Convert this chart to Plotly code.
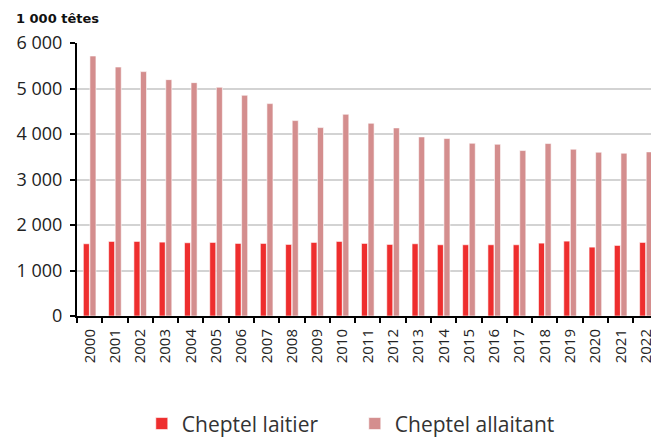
import plotly.graph_objects as go

years = [str(y) for y in range(2000, 2023)]
laitier = [1588, 1639, 1639, 1624, 1610, 1617, 1595, 1595, 1573, 1617, 1639,
           1595, 1573, 1588, 1566, 1566, 1566, 1566, 1602, 1646, 1514, 1551, 1617]
allaitant = [5714, 5472, 5371, 5195, 5129, 5027, 4851, 4668, 4295, 4141, 4434,
             4236, 4134, 3936, 3900, 3797, 3775, 3636, 3790, 3666, 3600, 3578, 3607]
y_ticks = [0, 1000, 2000, 3000, 4000, 5000, 6000]

RED = "#EE2E2E"
PINK = "#D48E8E"
FONT = "Open Sans"

fig = go.Figure()
fig.add_trace(go.Bar(x=years, y=laitier, name="Cheptel laitier",
                     marker=dict(color=RED, line=dict(color="white", width=0.6))))
fig.add_trace(go.Bar(x=years, y=allaitant, name="Cheptel allaitant",
                     marker=dict(color=PINK, line=dict(color="white", width=0.6))))

fig.update_layout(
    width=651, height=437,
    margin=dict(l=77, r=0, t=43, b=121, autoexpand=False),
    plot_bgcolor="white", paper_bgcolor="white",
    separators=", ",
    barmode="group", bargap=0.48, bargroupgap=0.08,
    font=dict(family=FONT, color="#222222"),
    showlegend=True,
    legend=dict(orientation="h", xref="container", yref="container",
                x=0.545, xanchor="center", y=0.03, yanchor="middle",
                font=dict(size=21, color="#333333"), itemwidth=30,
                entrywidth=168, traceorder="normal"),
    xaxis=dict(
        type="category", range=[-0.5, 22.2], automargin=False,
        showline=True, linecolor="black", linewidth=2,
        ticks="outside", tickson="boundaries", ticklen=5, tickcolor="black", tickwidth=2,
        tickangle=-90, tickfont=dict(size=15, color="#222222"), ticklabelstandoff=5,
        showgrid=False,
    ),
    yaxis=dict(
        range=[0, 6000], tickvals=y_ticks, tickformat=",d", automargin=False,
        showline=True, linecolor="black", linewidth=2,
        ticks="outside", ticklen=5, tickcolor="black", tickwidth=2,
        tickfont=dict(size=18, color="#222222"), ticklabelstandoff=4,
        showgrid=True, gridcolor="#D3D3D3", gridwidth=1.5,
        zeroline=False,
    ),
    annotations=[dict(text="<b>1 000 têtes</b>", xref="paper", yref="paper",
                      x=-0.11, y=1.09, xanchor="left", yanchor="middle",
                      showarrow=False,
                      font=dict(size=13, color="#111111", family="DejaVu Sans"))],
)

fig.write_html("out.html", config={"displayModeBar": False},
               post_script="document.body.style.margin='0';document.body.style.overflow='hidden';")
